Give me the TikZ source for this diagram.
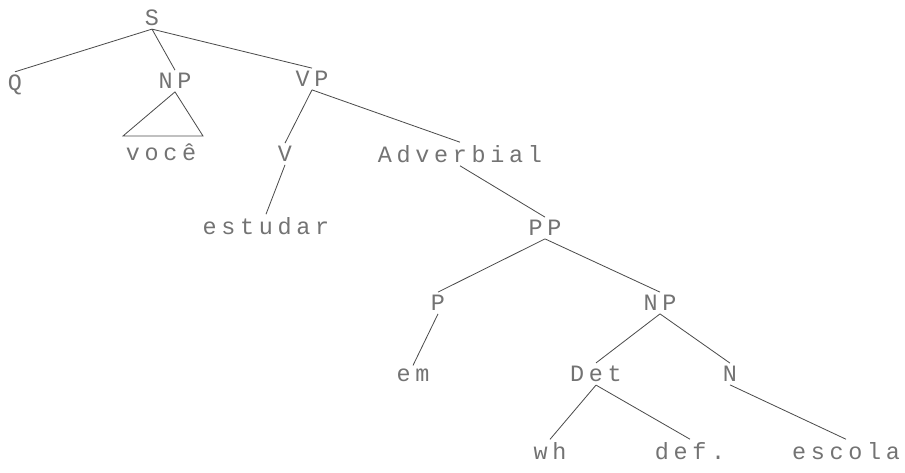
\documentclass[tikz,border=0pt]{standalone}
\usepackage{fontspec}
\newfontfamily\typewr[LetterSpace=20]{Liberation Mono}
\begin{document}
\begin{tikzpicture}[x=0.03cm,y=-0.03cm,
lbl/.style={inner sep=2.5pt,text=black!55,font=\typewr\fontsize{20}{22}\selectfont},
br/.style={draw=black!70,line width=0.7pt}]
\useasboundingbox (0,0) rectangle (905,472);
\node[lbl] (S) at (152,18) {S};
\node[lbl] (Q) at (15,85) {Q};
\node[lbl] (NPa) at (175,81) {NP};
\node[lbl] (VP) at (312,79) {VP};
\node[lbl] (voce) at (161,152) {você};
\node[lbl] (V) at (285,154) {V};
\node[lbl] (Adv) at (460,154) {Adverbial};
\node[lbl] (estudar) at (266,226) {estudar};
\node[lbl] (PP) at (545,228) {PP};
\node[lbl] (P) at (438,303) {P};
\node[lbl] (NPb) at (660,303) {NP};
\node[lbl] (em) at (413,375) {em};
\node[lbl] (Det) at (596,374) {Det};
\node[lbl] (N) at (730,374) {N};
\node[lbl] (wh) at (550,451) {wh};
\node[lbl] (def) at (690,451) {def.};
\node[lbl] (escola) at (846,451) {escola};

\draw[br] (S.south) -- (Q.north) (S.south) -- (NPa.north) (S.south) -- (VP.north);
\draw[br] (NPa.south) -- (123,136) -- (203,136) -- cycle;
\draw[br] (VP.south) -- (V.north) (VP.south) -- (Adv.north);
\draw[br] (V.south) -- (estudar.north);
\draw[br] (Adv.south) -- (PP.north);
\draw[br] (PP.south) -- (P.north) (PP.south) -- (NPb.north);
\draw[br] (P.south) -- (em.north);
\draw[br] (NPb.south) -- (Det.north) (NPb.south) -- (N.north);
\draw[br] (Det.south) -- (wh.north) (Det.south) -- (def.north);
\draw[br] (N.south) -- (escola.north);
\end{tikzpicture}
\end{document}
